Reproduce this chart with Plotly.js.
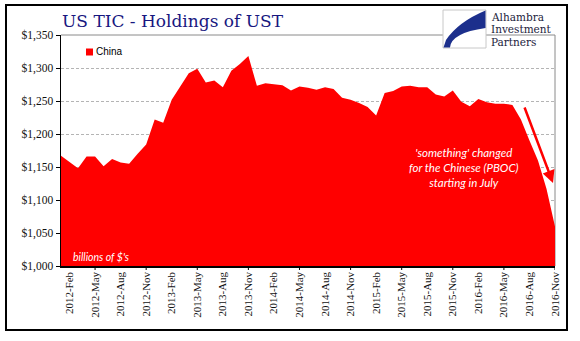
<!DOCTYPE html>
<html>
<head>
<meta charset="utf-8">
<script src="https://cdn.plot.ly/plotly-3.0.1.min.js"></script>
<style>html,body{margin:0;padding:0;background:#fff;}#chart{width:580px;height:341px;}</style>
</head>
<body>
<div id="chart"></div>
<script>
// ---- data ----
const months = [
  '2012-Jan','2012-Feb','2012-Mar','2012-Apr','2012-May','2012-Jun','2012-Jul','2012-Aug','2012-Sep','2012-Oct','2012-Nov','2012-Dec',
  '2013-Jan','2013-Feb','2013-Mar','2013-Apr','2013-May','2013-Jun','2013-Jul','2013-Aug','2013-Sep','2013-Oct','2013-Nov','2013-Dec',
  '2014-Jan','2014-Feb','2014-Mar','2014-Apr','2014-May','2014-Jun','2014-Jul','2014-Aug','2014-Sep','2014-Oct','2014-Nov','2014-Dec',
  '2015-Jan','2015-Feb','2015-Mar','2015-Apr','2015-May','2015-Jun','2015-Jul','2015-Aug','2015-Sep','2015-Oct','2015-Nov','2015-Dec',
  '2016-Jan','2016-Feb','2016-Mar','2016-Apr','2016-May','2016-Jun','2016-Jul','2016-Aug','2016-Sep','2016-Oct','2016-Nov'
];
const china = [
  1167,1158,1148,1166,1166,1151,1162,1157,1155,1170,1184,1222,
  1217,1252,1272,1292,1299,1278,1281,1271,1296,1306,1318,1273,
  1277,1275,1274,1266,1272,1270,1267,1271,1268,1255,1252,1247,
  1241,1228,1262,1265,1272,1273,1271,1271,1260,1257,1266,1249,
  1242,1253,1248,1246,1246,1244,1222,1190,1160,1117,1060
];
const tickLabels = [
  '2012-Feb','2012-May','2012-Aug','2012-Nov','2013-Feb','2013-May','2013-Aug','2013-Nov',
  '2014-Feb','2014-May','2014-Aug','2014-Nov','2015-Feb','2015-May','2015-Aug','2015-Nov',
  '2016-Feb','2016-May','2016-Aug','2016-Nov'
];
const tickMarks = ['2012-May','2012-Nov','2013-May','2013-Nov','2014-May','2014-Nov','2015-May','2015-Nov','2016-May','2016-Nov'];
const seriesName = 'China';
const logoLines = ['Alhambra', 'Investment', 'Partners'];

// ---- helpers: pixel -> paper coords (plot area 61..555 x 35..266) ----
const L = 61, R = 555, T = 35, B = 266;
const px = x => (x - L) / (R - L);
const py = y => (B - y) / (B - T);

const trace = {
  x: months, y: china, type: 'scatter', mode: 'lines', fill: 'tozeroy',
  fillcolor: '#ff0000', line: {color: '#ff0000', width: 0}, name: seriesName,
  hoverinfo: 'skip', showlegend: false
};

const shapes = [
  // outer frame
  {type: 'rect', xref: 'paper', yref: 'paper', x0: px(6), x1: px(567), y0: py(330), y1: py(5), line: {color: '#000', width: 2}},
  // plot border top/right
  {type: 'line', xref: 'paper', yref: 'paper', x0: 0, x1: 1, y0: 1, y1: 1, line: {color: '#8a8a8a', width: 1}},
  {type: 'line', xref: 'paper', yref: 'paper', x0: 1, x1: 1, y0: 0, y1: 1, line: {color: '#8a8a8a', width: 1}, layer: 'below'},
  // legend swatch
  {type: 'rect', xref: 'paper', yref: 'paper', x0: px(86), x1: px(93), y0: py(55.5), y1: py(48.5), fillcolor: '#ff0000', line: {width: 0}},
  // logo box
  {type: 'rect', xref: 'paper', yref: 'paper', x0: px(443), x1: px(486), y0: py(48), y1: py(10), fillcolor: '#fff', line: {color: '#c8c8c8', width: 1}},
  {type: 'path', xref: 'paper', yref: 'paper', fillcolor: '#1c2f8c', line: {width: 0},
   path: 'M ' + px(485.5) + ',' + py(10.5) + ' Q ' + px(458) + ',' + py(22) + ' ' + px(446) + ',' + py(40) +
         ' L ' + px(443.5) + ',' + py(47.5) + ' L ' + px(450) + ',' + py(47.5) +
         ' Q ' + px(451) + ',' + py(33) + ' ' + px(485.5) + ',' + py(28) + ' Z'}
];
tickMarks.forEach(m => shapes.push({type: 'line', xref: 'x', yref: 'paper', x0: m, x1: m, y0: 0, y1: -4 / (B - T), line: {color: '#000', width: 1}}));

const annotations = [
  {xref: 'paper', yref: 'paper', x: px(94), y: py(52), xanchor: 'left', yanchor: 'middle', showarrow: false,
   text: seriesName, font: {family: 'Liberation Sans, Arial, sans-serif', size: 10, color: '#000'}},
  {xref: 'paper', yref: 'paper', x: px(71), y: py(257), xanchor: 'left', yanchor: 'middle', showarrow: false,
   text: "billions of $'s", font: {family: 'Lato, sans-serif', size: 10.5, color: '#fff', style: 'italic'}},
  {xref: 'paper', yref: 'paper', x: px(464), y: py(167), xanchor: 'center', yanchor: 'middle', showarrow: false, align: 'center',
   text: "'something' changed<br>for the Chinese (PBOC)<br>starting in July",
   font: {family: 'Lato, sans-serif', size: 11.5, color: '#fff', style: 'italic'}},
  {xref: 'paper', yref: 'paper', x: px(553), y: py(183), ax: -29, ay: -77, showarrow: true, text: '',
   arrowhead: 2, arrowsize: 1, arrowwidth: 2.5, arrowcolor: '#ff0000'}
];
logoLines.forEach((t, i) => annotations.push({
  xref: 'paper', yref: 'paper', x: px(490), y: py(16.5 + 12.5 * i), xanchor: 'left', yanchor: 'middle', showarrow: false, borderpad: 0,
  text: t, font: {family: 'DejaVu Serif, serif', size: 10.5, color: '#1b1b3c'}
}));

const layout = {
  width: 580, height: 341,
  margin: {l: L, r: 580 - R, t: T, b: 341 - B, pad: 0},
  paper_bgcolor: '#fff', plot_bgcolor: '#fff',
  showlegend: false,
  title: {text: 'US TIC - Holdings of UST', font: {family: 'DejaVu Serif, serif', size: 17, color: '#17177f'},
          xref: 'paper', x: px(62), xanchor: 'left', yref: 'container', y: 1 - 21 / 341, yanchor: 'middle'},
  xaxis: {type: 'category', range: [0, months.length - 1], tickmode: 'array', tickvals: tickLabels, ticktext: tickLabels,
          tickangle: -90, ticks: '', showline: true, linecolor: '#000', linewidth: 1.5, showgrid: false, zeroline: false,
          tickfont: {family: 'Liberation Serif, Times New Roman, serif', size: 11, color: '#111'}, fixedrange: true},
  yaxis: {range: [1000, 1350], tick0: 1000, dtick: 50, tickprefix: '$', tickformat: ',d', showline: true, linecolor: '#000', linewidth: 1.5,
          ticks: 'outside', ticklen: 4, tickcolor: '#000', tickwidth: 1, showgrid: true, gridcolor: '#b4b4b4', griddash: '3px,2px', gridwidth: 1,
          zeroline: false, tickfont: {family: 'Liberation Serif, Times New Roman, serif', size: 11.5, color: '#111'}, fixedrange: true},
  shapes: shapes,
  annotations: annotations
};

Plotly.newPlot('chart', [trace], layout, {staticPlot: true, displayModeBar: false});
</script>
</body>
</html>
